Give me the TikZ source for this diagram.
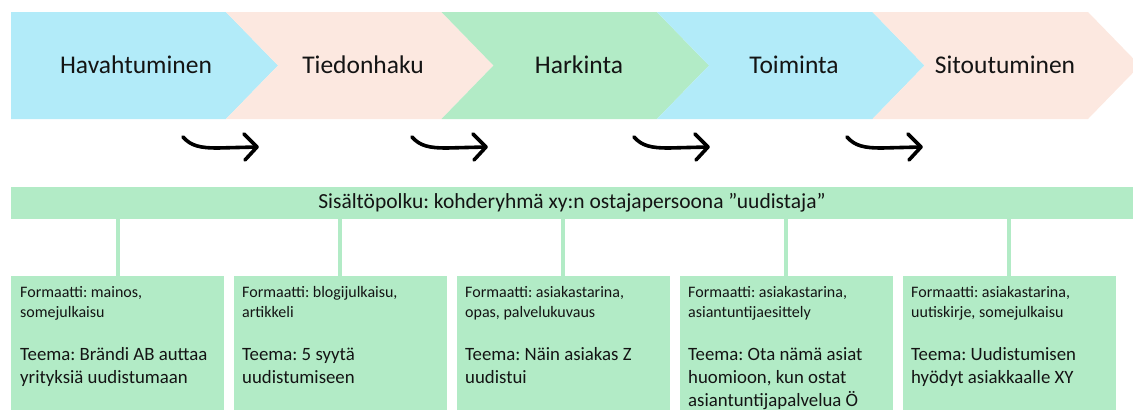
\documentclass[tikz,border=0pt]{standalone}
\usepackage{fontspec}
\setmainfont{Carlito}
\frenchspacing
\definecolor{cblue}{HTML}{B2EBF9}
\definecolor{cpeach}{HTML}{FCE8E0}
\definecolor{cgreen}{HTML}{B2EBC6}
\definecolor{ink}{HTML}{141414}
\begin{document}
\begin{tikzpicture}[x=1pt,y=-1pt,
  title/.style={anchor=base,text=ink,font=\fontsize{25.5}{30}\selectfont,inner sep=0pt},
  banner/.style={fill=cgreen,minimum width=1122pt,minimum height=32pt,inner sep=0pt,text=ink,font=\fontsize{21.5}{26}\selectfont\frenchspacing},
  card/.style={fill=cgreen,minimum width=213pt,minimum height=134pt,inner sep=0pt},
  fmt/.style={anchor=base west,align=left,inner sep=0pt,text=ink,font=\fontsize{16}{20}\selectfont\frenchspacing},
  teema/.style={anchor=base west,align=left,inner sep=0pt,text=ink,font=\fontsize{18.8}{23}\selectfont\frenchspacing},
  link/.style={draw=cgreen,line width=4pt},
  curvy/.style={draw=black,line width=3.6pt,line cap=round,line join=round}
]
\useasboundingbox (0,0) rectangle (1133,410);
% chevrons
\fill[cblue] (11,12) -- (226,12) -- (278,65.5) -- (226,119) -- (11,119) -- cycle;
\fill[cpeach] (226,12) -- (441.5,12) -- (493.5,65.5) -- (441.5,119) -- (226,119) -- (278,65.5) -- cycle;
\fill[cgreen] (441.5,12) -- (657,12) -- (709,65.5) -- (657,119) -- (441.5,119) -- (493.5,65.5) -- cycle;
\fill[cblue] (657,12) -- (872.5,12) -- (924.5,65.5) -- (872.5,119) -- (657,119) -- (709,65.5) -- cycle;
\fill[cpeach] (872.5,12) -- (1088,12) -- (1140,65.5) -- (1088,119) -- (872.5,119) -- (924.5,65.5) -- cycle;
\node[title] (s1) at (136,73) {Havahtuminen};
\node[title] (s2) at (363,73) {Tiedonhaku};
\node[title] (s3) at (579,73) {Harkinta};
\node[title] (s4) at (794,73) {Toiminta};
\node[title] (s5) at (1005,73) {Sitoutuminen};
% curved arrows
\foreach \x [count=\i] in {183,412,634,847}{
  \coordinate (a\i s) at (\x,137);
  \coordinate (a\i e) at (\x+74,147);
  \draw[curvy] (a\i s) .. controls +(8,9) and +(-18,0) .. +(35,11) -- (a\i e);
  \draw[curvy] ([shift={(-13,-13)}]a\i e) -- (a\i e) -- ([shift={(-12,13)}]a\i e);
}
% banner
\node[banner] (path) at (572,203) {Sisältöpolku: kohderyhmä xy:n ostajapersoona ”uudistaja”};
% cards
\node[card] (b1) at (117.5,343) {};
\node[card] (b2) at (340,343) {};
\node[card] (b3) at (563,343) {};
\node[card] (b4) at (786,343) {};
\node[card] (b5) at (1009,343) {};
\foreach \i in {1,...,5}{
  \draw[link] (path.south -| b\i.north) -- (b\i.north);
}
\node[fmt] (f1) at (20,317) {Formaatti: mainos,\\somejulkaisu};
\node[teema] (m1) at (20,383) {Teema: Brändi AB auttaa\\yrityksiä uudistumaan};
\node[fmt] (f2) at (242,317) {Formaatti: blogijulkaisu,\\artikkeli};
\node[teema] (m2) at (242,383) {Teema: 5 syytä\\uudistumiseen};
\node[fmt] (f3) at (465,317) {Formaatti: asiakastarina,\\opas, palvelukuvaus};
\node[teema] (m3) at (465,383) {Teema: Näin asiakas Z\\uudistui};
\node[fmt] (f4) at (688,317) {Formaatti: asiakastarina,\\asiantuntijaesittely};
\node[teema] (m4) at (688,406) {Teema: Ota nämä asiat\\huomioon, kun ostat\\asiantuntijapalvelua Ö};
\node[fmt] (f5) at (911,317) {Formaatti: asiakastarina,\\uutiskirje, somejulkaisu};
\node[teema] (m5) at (911,383) {Teema: Uudistumisen\\hyödyt asiakkaalle XY};
\end{tikzpicture}
\end{document}
